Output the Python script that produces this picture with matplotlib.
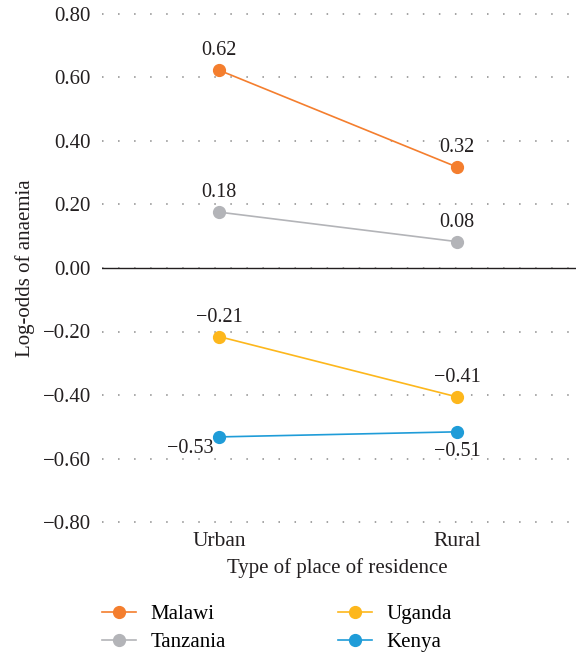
import matplotlib
matplotlib.use("Agg")
import matplotlib.pyplot as plt
from matplotlib.ticker import FuncFormatter, MultipleLocator

plt.rcParams['font.family'] = ['Liberation Serif', 'DejaVu Serif']

categories = ["Urban", "Rural"]
countries = ["Malawi", "Tanzania", "Uganda", "Kenya"]
values = {
    "Malawi": [0.623, 0.318],
    "Tanzania": [0.176, 0.083],
    "Uganda": [-0.216, -0.406],
    "Kenya": [-0.532, -0.516],
}
labels = {
    "Malawi": ["0.62", "0.32"],
    "Tanzania": ["0.18", "0.08"],
    "Uganda": ["\u22120.21", "\u22120.41"],
    "Kenya": ["\u22120.53", "\u22120.51"],
}
colors = {
    "Malawi": "#F47E2E",
    "Tanzania": "#B3B4B8",
    "Uganda": "#FDB71C",
    "Kenya": "#1F9CD8",
}
# label offsets in points (dx, dy) for each point
offsets = {
    "Malawi": [(0, 14), (0, 14)],
    "Tanzania": [(0, 14), (0, 14)],
    "Uganda": [(0, 14), (0, 14)],
    "Kenya": [(-21, -8), (0, -14)],
}

TXT = '#231F20'
fig = plt.figure(figsize=(5.76, 6.54), dpi=100)
ax = fig.add_axes([102/576, (654-522)/654, 1 - 102/576, (522-14)/654])

x = list(range(len(categories)))
for c in countries:
    ax.plot(x, values[c], color=colors[c], lw=1.2, marker='o', markersize=8.5,
            label=c, zorder=3)
    for i in x:
        ax.annotate(labels[c][i], (x[i], values[c][i]), xytext=offsets[c][i],
                    textcoords='offset points', ha='center', va='center',
                    fontsize=14.5, color=TXT)

ax.set_xlim(-0.492, 1.5)
ax.set_ylim(-0.8, 0.8)
ax.yaxis.set_major_locator(MultipleLocator(0.2))
ax.yaxis.set_major_formatter(FuncFormatter(
    lambda v, p: ("%.2f" % (0.0 if abs(v) < 1e-9 else v)).replace('-', '\u2212')))
ax.set_xticks(x)
ax.set_xticklabels(categories)
ax.grid(axis='y', color='#8a8a8a', linestyle=(0, (1, 9.5)), lw=1.1, clip_on=False)
ax.axhline(0, color=TXT, lw=1.0, zorder=2)
for s in ax.spines.values():
    s.set_visible(False)
ax.tick_params(axis='both', length=0, colors=TXT)
ax.tick_params(axis='x', pad=7, labelsize=15.5)
ax.tick_params(axis='y', pad=8, labelsize=15)
ax.set_xlabel("Type of place of residence", fontsize=15, color=TXT)
ax.set_ylabel("Log-odds of anaemia", fontsize=15, color=TXT)
ax.xaxis.set_label_coords((337 - 102) / 474, (522 - 568) / 508)
ax.yaxis.set_label_coords((25 - 102) / 474, 0.5)
ax.xaxis.label.set_va('center')
ax.yaxis.label.set_va('center')

handles, lbls = ax.get_legend_handles_labels()
fig.legend(handles, lbls, ncol=2,
           frameon=False, fontsize=15, loc='center left',
           bbox_to_anchor=(94/576, (654 - 628.5) / 654), handlelength=1.63,
           handletextpad=0.67, columnspacing=5.4, labelspacing=0.42,
           borderaxespad=0.0)

fig.savefig("out.png", dpi=100)
